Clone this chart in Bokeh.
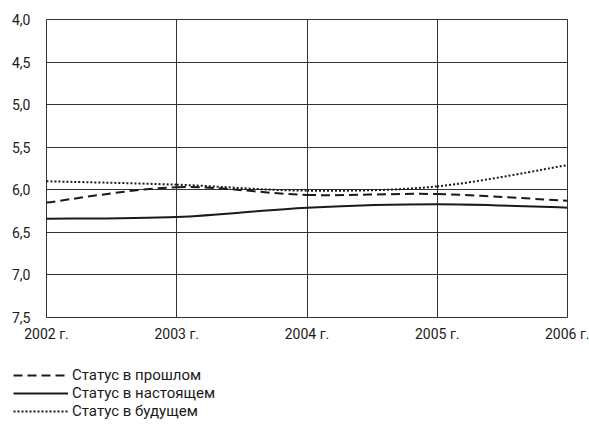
from bokeh.plotting import figure
from bokeh.layouts import column
from bokeh.models import Range1d, FixedTicker, Legend, LegendItem
from bokeh.embed import file_html
from bokeh.resources import INLINE

years = [2002, 2003, 2004, 2005, 2006]
year_labels = ["2002 г.", "2003 г.", "2004 г.", "2005 г.", "2006 г."]
past = [6.15, 5.97, 6.06, 6.05, 6.13]
present = [6.34, 6.32, 6.21, 6.17, 6.21]
future = [5.90, 5.94, 6.01, 5.96, 5.71]
series_names = ["Статус в прошлом", "Статус в настоящем", "Статус в будущем"]
y_ticks = [4.0, 4.5, 5.0, 5.5, 6.0, 6.5, 7.0, 7.5]
y_labels = ["4,0", "4,5", "5,0", "5,5", "6,0", "6,5", "7,0", "7,5"]

FONT = "Roboto"
INK = "#1a1a1a"
GRID = "#333333"

p = figure(frame_width=521, frame_height=298, output_backend="svg",
           toolbar_location=None,
           x_range=Range1d(years[0], years[-1]),
           y_range=Range1d(y_ticks[-1], y_ticks[0]))
p.min_border_left = 46
p.min_border_right = 22
p.min_border_top = 19
p.min_border_bottom = 40
p.background_fill_color = "white"
p.border_fill_color = "white"
p.outline_line_color = GRID
p.outline_line_width = 1

xax = p.xaxis[0]
xax.ticker = FixedTicker(ticks=years)
xax.major_label_overrides = {t: l for t, l in zip(years, year_labels)}
xax.axis_line_color = None
xax.major_tick_line_color = None
xax.minor_tick_line_color = None
xax.major_label_standoff = 2
xax.major_label_text_font = FONT
xax.major_label_text_font_size = "14px"
xax.major_label_text_color = INK
p.xgrid.ticker = FixedTicker(ticks=years)
p.xgrid.grid_line_color = GRID
p.xgrid.grid_line_width = 1

yax = p.yaxis[0]
yax.ticker = FixedTicker(ticks=y_ticks)
yax.major_label_overrides = {t: l for t, l in zip(y_ticks, y_labels)}
yax.axis_line_color = None
yax.major_tick_line_color = None
yax.minor_tick_line_color = None
yax.major_label_standoff = 10
yax.major_label_text_font = FONT
yax.major_label_text_font_size = "14px"
yax.major_label_text_color = INK
p.ygrid.ticker = FixedTicker(ticks=y_ticks)
p.ygrid.grid_line_color = GRID
p.ygrid.grid_line_width = 1


def smooth(xs, ys):
    """Catmull-Rom control points for a smooth curve through the data."""
    n = len(xs)
    x0, y0, x1, y1, cx0, cy0, cx1, cy1 = ([] for _ in range(8))
    for i in range(n - 1):
        im = max(i - 1, 0)
        ip = min(i + 2, n - 1)
        x0.append(xs[i]); y0.append(ys[i])
        x1.append(xs[i + 1]); y1.append(ys[i + 1])
        cx0.append(xs[i] + (xs[i + 1] - xs[im]) / 6)
        cy0.append(ys[i] + (ys[i + 1] - ys[im]) / 6)
        cx1.append(xs[i + 1] - (xs[ip] - xs[i]) / 6)
        cy1.append(ys[i + 1] - (ys[ip] - ys[i]) / 6)
    return dict(x0=x0, y0=y0, x1=x1, y1=y1, cx0=cx0, cy0=cy0, cx1=cx1, cy1=cy1)


styles = [
    dict(line_dash="9 5", line_width=2),
    dict(line_dash="solid", line_width=2),
    dict(line_dash="2 2", line_width=2),
]

# legend strip below the chart (its own small canvas, so nothing is clipped)
lg = figure(width=589, height=68, output_backend="svg", toolbar_location=None,
            x_axis_location=None, y_axis_location=None,
            x_range=Range1d(years[0], years[-1]),
            y_range=Range1d(y_ticks[-1], y_ticks[0]))
lg.min_border = 0
lg.min_border_left = 0
lg.min_border_right = 0
lg.min_border_top = 0
lg.min_border_bottom = 0
lg.outline_line_color = None
lg.background_fill_color = "white"
lg.border_fill_color = "white"
lg.xgrid.visible = False
lg.ygrid.visible = False

legend_x = -33
if "frame_align" in lg.properties():
    lg.frame_align = False
    p.frame_align = False
    legend_x = 13

items = []
for vals, name, st in zip([past, present, future], series_names, styles):
    p.bezier(source=smooth(years, vals), x0="x0", y0="y0", x1="x1", y1="y1",
             cx0="cx0", cy0="cy0", cx1="cx1", cy1="cy1", line_color=INK, **st)
    r = lg.line(years, vals, line_color=INK, **st)
    r.visible = False
    items.append(LegendItem(label=name, renderers=[r]))

legend = Legend(items=items, location=(legend_x, 5), orientation="vertical",
                padding=0, margin=0, spacing=0, border_line_color=None,
                background_fill_alpha=0, glyph_width=55, glyph_height=18,
                label_height=18, label_standoff=4,
                label_text_font=FONT, label_text_font_size="15px",
                label_text_color=INK)
lg.add_layout(legend, "center")

open("out.html", "w").write(file_html(column(p, lg, spacing=0), INLINE))
